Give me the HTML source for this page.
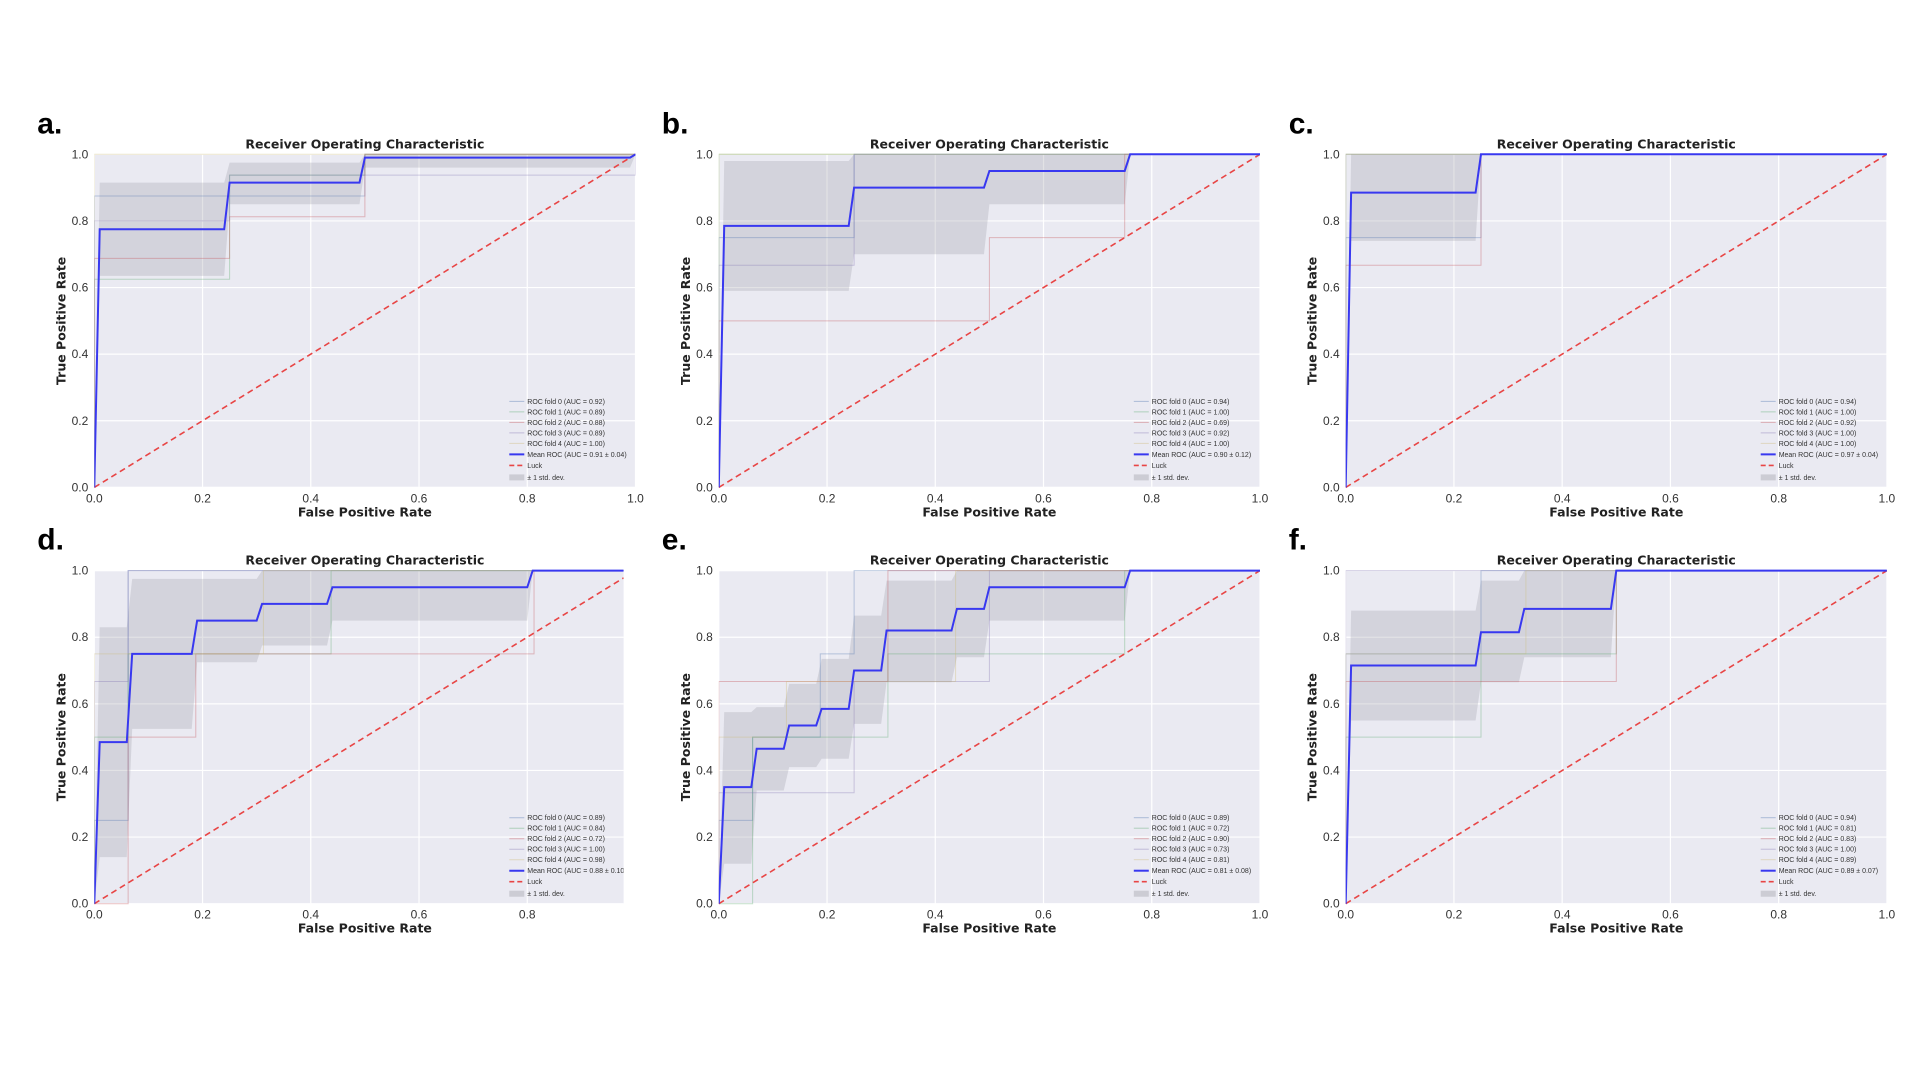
<!DOCTYPE html>
<html><head><meta charset="utf-8"><style>
html,body{margin:0;padding:0;background:#fff;}
svg text{font-family:"Liberation Sans",Arial,sans-serif;}
.t{font-family:"DejaVu Sans","Liberation Sans",sans-serif;font-weight:bold;}
</style></head><body>
<svg id="fig" width="1920" height="1080" viewBox="0 0 1920 1080" xmlns="http://www.w3.org/2000/svg"></svg>
<script>
// ---- data ----
const panelLetters = ["a.","b.","c.","d.","e.","f."];
const xMaxes = [1,1,1,0.978,1,1];
const meanX_a=[0,0.01,0.24,0.25,0.49,0.5,0.99,1];
const meanY_a=[0,0.775,0.775,0.915,0.915,0.99,0.99,1];
const lo_a=[0,0.635,0.635,0.85,0.85,0.96,0.96,1];
const hi_a=[0,0.915,0.915,0.975,0.975,1,1,1];
const meanX_b=[0,0.01,0.24,0.25,0.49,0.5,0.75,0.76,1];
const meanY_b=[0,0.785,0.785,0.9,0.9,0.95,0.95,1,1];
const lo_b=[0,0.59,0.59,0.7,0.7,0.85,0.85,1,1];
const hi_b=[0,0.98,0.98,1,1,1,1,1,1];
const meanX_c=[0,0.01,0.24,0.25,1];
const meanY_c=[0,0.885,0.885,1,1];
const lo_c=[0,0.74,0.74,1,1];
const hi_c=[0,1,1,1,1];
const meanX_d=[0,0.01,0.06,0.07,0.18,0.19,0.30,0.31,0.43,0.44,0.80,0.81,0.978];
const meanY_d=[0,0.485,0.485,0.75,0.75,0.85,0.85,0.9,0.9,0.95,0.95,1,1];
const lo_d=[0,0.14,0.14,0.525,0.525,0.725,0.725,0.775,0.775,0.85,0.85,1,1];
const hi_d=[0,0.83,0.83,0.975,0.975,0.975,0.975,1,1,1,1,1,1];
const meanX_e=[0,0.01,0.06,0.07,0.12,0.13,0.18,0.19,0.24,0.25,0.30,0.31,0.43,0.44,0.49,0.5,0.75,0.76,1];
const meanY_e=[0,0.35,0.35,0.465,0.465,0.535,0.535,0.585,0.585,0.7,0.7,0.82,0.82,0.885,0.885,0.95,0.95,1,1];
const lo_e=[0,0.12,0.12,0.34,0.34,0.41,0.41,0.435,0.435,0.54,0.54,0.665,0.665,0.74,0.74,0.85,0.85,1,1];
const hi_e=[0,0.575,0.575,0.59,0.59,0.66,0.66,0.735,0.735,0.865,0.865,0.97,0.97,1,1,1,1,1,1];
const meanX_f=[0,0.01,0.24,0.25,0.32,0.33,0.49,0.5,1];
const meanY_f=[0,0.715,0.715,0.815,0.815,0.885,0.885,1,1];
const lo_f=[0,0.55,0.55,0.665,0.665,0.74,0.74,1,1];
const hi_f=[0,0.88,0.88,0.97,0.97,1,1,1,1];
const folds_a=[[[0,0],[0,0.875],[0.5,0.875],[0.5,1],[1,1]],[[0,0],[0,0.625],[0.25,0.625],[0.25,0.9375],[0.5,0.9375],[0.5,1],[1,1]],[[0,0],[0,0.6875],[0.25,0.6875],[0.25,0.8125],[0.5,0.8125],[0.5,1],[1,1]],[[0,0],[0,0.8],[0.25,0.8],[0.25,0.9375],[1,0.9375],[1,1]],[[0,0],[0,1],[1,1]]];
const folds_b=[[[0,0],[0,0.75],[0.25,0.75],[0.25,1],[1,1]],[[0,0],[0,1],[1,1]],[[0,0],[0,0.5],[0.5,0.5],[0.5,0.75],[0.75,0.75],[0.75,1],[1,1]],[[0,0],[0,0.667],[0.25,0.667],[0.25,1],[1,1]],[[0,0],[0,1],[1,1]]];
const folds_c=[[[0,0],[0,0.75],[0.25,0.75],[0.25,1],[1,1]],[[0,0],[0,1],[1,1]],[[0,0],[0,0.667],[0.25,0.667],[0.25,1],[1,1]],[[0,0],[0,1],[1,1]],[[0,0],[0,1],[1,1]]];
const folds_d=[[[0,0],[0,0.25],[0.0625,0.25],[0.0625,1],[1,1]],[[0,0],[0,0.5],[0.0625,0.5],[0.0625,0.75],[0.4375,0.75],[0.4375,1],[1,1]],[[0,0],[0.0625,0],[0.0625,0.5],[0.1875,0.5],[0.1875,0.75],[0.8125,0.75],[0.8125,1],[1,1]],[[0,0],[0,0.667],[0.0625,0.667],[0.0625,1],[1,1]],[[0,0],[0,0.75],[0.3125,0.75],[0.3125,1],[1,1]]];
const folds_e=[[[0,0],[0,0.25],[0.0625,0.25],[0.0625,0.5],[0.1875,0.5],[0.1875,0.75],[0.25,0.75],[0.25,1],[1,1]],[[0,0],[0.0625,0],[0.0625,0.5],[0.3125,0.5],[0.3125,0.75],[0.75,0.75],[0.75,1],[1,1]],[[0,0],[0,0.667],[0.3125,0.667],[0.3125,1],[1,1]],[[0,0],[0,0.333],[0.25,0.333],[0.25,0.667],[0.5,0.667],[0.5,1],[1,1]],[[0,0],[0,0.5],[0.125,0.5],[0.125,0.667],[0.4375,0.667],[0.4375,1],[1,1]]];
const folds_f=[[[0,0],[0,0.75],[0.25,0.75],[0.25,1],[1,1]],[[0,0],[0,0.5],[0.25,0.5],[0.25,0.75],[0.5,0.75],[0.5,1],[1,1]],[[0,0],[0,0.667],[0.5,0.667],[0.5,1],[1,1]],[[0,0],[0,1],[1,1]],[[0,0],[0,0.75],[0.333,0.75],[0.333,1],[1,1]]];
const foldAUC_a=["0.92","0.89","0.88","0.89","1.00"], meanAUC_a="0.91 ± 0.04";
const foldAUC_b=["0.94","1.00","0.69","0.92","1.00"], meanAUC_b="0.90 ± 0.12";
const foldAUC_c=["0.94","1.00","0.92","1.00","1.00"], meanAUC_c="0.97 ± 0.04";
const foldAUC_d=["0.89","0.84","0.72","1.00","0.98"], meanAUC_d="0.88 ± 0.10";
const foldAUC_e=["0.89","0.72","0.90","0.73","0.81"], meanAUC_e="0.81 ± 0.08";
const foldAUC_f=["0.94","0.81","0.83","1.00","0.89"], meanAUC_f="0.89 ± 0.07";
const tickValues=[0,0.2,0.4,0.6,0.8,1.0];
const tickLabels=["0.0","0.2","0.4","0.6","0.8","1.0"];

const panels=[
 {mx:meanX_a,my:meanY_a,lo:lo_a,hi:hi_a,folds:folds_a,auc:foldAUC_a,mauc:meanAUC_a},
 {mx:meanX_b,my:meanY_b,lo:lo_b,hi:hi_b,folds:folds_b,auc:foldAUC_b,mauc:meanAUC_b},
 {mx:meanX_c,my:meanY_c,lo:lo_c,hi:hi_c,folds:folds_c,auc:foldAUC_c,mauc:meanAUC_c},
 {mx:meanX_d,my:meanY_d,lo:lo_d,hi:hi_d,folds:folds_d,auc:foldAUC_d,mauc:meanAUC_d},
 {mx:meanX_e,my:meanY_e,lo:lo_e,hi:hi_e,folds:folds_e,auc:foldAUC_e,mauc:meanAUC_e},
 {mx:meanX_f,my:meanY_f,lo:lo_f,hi:hi_f,folds:folds_f,auc:foldAUC_f,mauc:meanAUC_f}
];
const foldColors=["#4c72b0","#55a868","#c44e52","#8172b2","#ccb974"];

const NS="http://www.w3.org/2000/svg";
const svg=document.getElementById('fig');
function mk(tag,attrs,parent){const e=document.createElementNS(NS,tag);for(const k in attrs)e.setAttribute(k,attrs[k]);(parent||svg).appendChild(e);return e;}

const colLeft=[94.3,718.8,1345.7];
const rowTop=[154.3,570.6];
const PW=541.2, PH=333.1;

panels.forEach((p,i)=>{
  const L=colLeft[i%3], T=rowTop[Math.floor(i/3)], xm=xMaxes[i];
  const W=PW*xm;
  const sx=v=>L+v*PW, sy=v=>T+PH-v*PH;
  const g=mk('g',{});
  
  
  const lab=mk('text',{x:L-57,y:T-21,'font-size':30,'font-weight':'bold',fill:'#000'},g);
  lab.textContent=panelLetters[i];
  
  
  const bg=mk('rect',{x:L,y:T,width:W,height:PH,fill:'#eaeaf2'},g);
  
  
  const cp=mk('clipPath',{id:'cp'+i},g);
  mk('rect',{x:L,y:T-2,width:W,height:PH+4},cp);
  // grid & ticks
  tickValues.forEach((v,k)=>{
    const gy=mk('line',{x1:L,x2:L+W,y1:sy(v),y2:sy(v),stroke:'#fff','stroke-width':1.2},g);
    
    
    const ty=mk('text',{x:L-6,y:sy(v)+4,'font-size':12,'text-anchor':'end',fill:'#333'},g);
    ty.textContent=tickLabels[k];
    
    
    if(v<=xm+1e-9){
      const gx=mk('line',{x1:sx(v),x2:sx(v),y1:T,y2:T+PH,stroke:'#fff','stroke-width':1.2},g);
      
      
      const tx=mk('text',{x:sx(v),y:T+PH+15,'font-size':12,'text-anchor':'middle',fill:'#333'},g);
      tx.textContent=tickLabels[k];
      
      
    }
  });
  const inner=mk('g',{'clip-path':'url(#cp'+i+')'},g);
  // band
  let pts=p.mx.map((x,k)=>sx(x)+','+sy(p.hi[k]));
  for(let k=p.mx.length-1;k>=0;k--)pts.push(sx(p.mx[k])+','+sy(p.lo[k]));
  const band=mk('polygon',{points:pts.join(' '),fill:'#a0a0a8','fill-opacity':0.3},inner);
  
  
  // folds
  p.folds.forEach((f,k)=>{
    const pl=mk('polyline',{points:f.map(q=>sx(q[0])+','+sy(q[1])).join(' '),fill:'none',stroke:foldColors[k],'stroke-opacity':0.35,'stroke-width':1},inner);
    
    
  });
  // luck
  const luck=mk('line',{x1:sx(0),y1:sy(0),x2:sx(xm),y2:sy(xm),stroke:'#e84545','stroke-width':1.6,'stroke-dasharray':'6,4'},inner);
  
  
  // mean
  const mean=mk('polyline',{points:p.mx.map((x,k)=>sx(x)+','+sy(p.my[k])).join(' '),fill:'none',stroke:'#3838f0','stroke-width':2},inner);
  
  
  // legend
  const lg=mk('g',{},inner);
  
  
  const lx=L+415, tx=L+433, B=T+PH;
  const offs=[-86,-75.5,-65,-54.5,-44,-33,-22,-10];
  const labels=p.auc.map((a,k)=>'ROC fold '+k+' (AUC = '+a+')').concat(['Mean ROC (AUC = '+p.mauc+')','Luck','± 1 std. dev.']);
  labels.forEach((s,k)=>{
    const y=B+offs[k];
    if(k<5){mk('line',{x1:lx,x2:lx+15,y1:y,y2:y,stroke:foldColors[k],'stroke-opacity':0.4},lg);}
    else if(k===5){mk('line',{x1:lx,x2:lx+15,y1:y,y2:y,stroke:'#3838f0','stroke-width':2},lg);}
    else if(k===6){mk('line',{x1:lx,x2:lx+15,y1:y,y2:y,stroke:'#e84545','stroke-width':1.6,'stroke-dasharray':'5,3'},lg);}
    else {mk('rect',{x:lx,y:y-3,width:15,height:6,fill:'#a0a0a8','fill-opacity':0.4},lg);}
    const t=mk('text',{x:tx,y:y+2.5,'font-size':7,fill:'#333'},lg);
    t.textContent=s;
    
    
  });
  // titles
  const ti=mk('text',{x:L+PW/2,y:T-6,'font-size':12.5,'text-anchor':'middle',fill:'#222',class:'t'},g);
  ti.textContent='Receiver Operating Characteristic';
  
  
  const xl=mk('text',{x:L+PW/2,y:T+PH+29,'font-size':12.5,'text-anchor':'middle',fill:'#222',class:'t'},g);
  xl.textContent='False Positive Rate';
  
  
  const yx=L-29, yy=T+PH/2;
  const yl=mk('text',{x:yx,y:yy,'font-size':12.5,'text-anchor':'middle',fill:'#222',class:'t',transform:'rotate(-90 '+yx+' '+yy+')'},g);
  yl.textContent='True Positive Rate';
  
  
});
</script>
</body></html>
